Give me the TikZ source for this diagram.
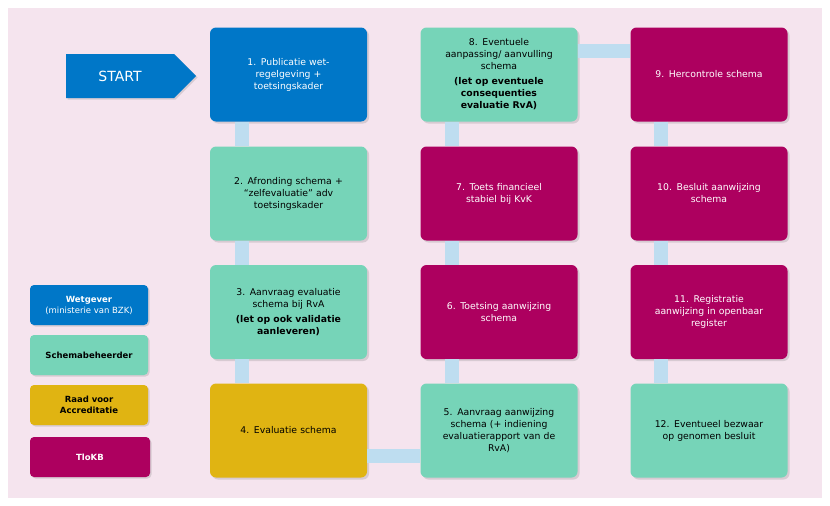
\documentclass[tikz,border=0pt]{standalone}
\usepackage{fontspec}
\setmainfont{DejaVu Sans}
\usetikzlibrary{shadows,shapes.arrows}
\definecolor{bgp}{HTML}{F5E4EE}
\definecolor{cblue}{HTML}{0077C8}
\definecolor{cgreen}{HTML}{76D4B8}
\definecolor{cmag}{HTML}{AD005F}
\definecolor{cgold}{HTML}{E0B412}
\definecolor{cbar}{HTML}{BEDDF0}
\tikzset{
 box/.style={rounded corners=6pt, minimum width=157pt, minimum height=94pt, align=center, text width=150pt, font=\fontsize{9.3}{12}\selectfont, drop shadow={opacity=0.25,shadow xshift=2pt,shadow yshift=-2pt}},
 gbox/.style={box, fill=cgreen, text=black},
 mbox/.style={box, fill=cmag, text=white},
 bbox/.style={box, fill=cblue, text=white},
 ybox/.style={box, fill=cgold, text=black},
 leg/.style={rounded corners=4pt, minimum width=118pt, minimum height=40pt, align=center, font=\fontsize{8.5}{11}\selectfont, drop shadow={opacity=0.25,shadow xshift=1.5pt,shadow yshift=-1.5pt}},
 bar/.style={line width=14pt, draw=cbar},
}
\begin{document}
\begin{tikzpicture}[x=1pt,y=-1pt]
\useasboundingbox (0,0) rectangle (830,506);
\fill[bgp] (8,8) rectangle (822,498);
% nodes
\node[bbox] (n1) at (288.5,74.5) {1. Publicatie wet-\\regelgeving +\\toetsingskader};
\node[gbox] (n2) at (288.5,193.5) {2. Afronding schema +\\“zelfevaluatie” adv\\toetsingskader};
\node[gbox] (n3) at (288.5,312) {3. Aanvraag evaluatie\\schema bij RvA\\[3pt]\textbf{(let op ook validatie}\\\textbf{aanleveren)}};
\node[ybox] (n4) at (288.5,430.5) {4. Evaluatie schema};
\node[gbox] (n5) at (499,430.5) {5. Aanvraag aanwijzing\\schema (+ indiening\\evaluatierapport van de\\RvA)};
\node[mbox] (n6) at (499,312) {6. Toetsing aanwijzing\\schema};
\node[mbox] (n7) at (499,193.5) {7. Toets financieel\\stabiel bij KvK};
\node[gbox] (n8) at (499,74.5) {8. Eventuele\\aanpassing/ aanvulling\\schema\\[3pt]\textbf{(let op eventuele}\\\textbf{consequenties}\\\textbf{evaluatie RvA)}};
\node[mbox] (n9) at (709,74.5) {9. Hercontrole schema};
\node[mbox] (n10) at (709,193.5) {10. Besluit aanwijzing\\schema};
\node[mbox] (n11) at (709,312) {11. Registratie\\aanwijzing in openbaar\\register};
\node[gbox] (n12) at (709,430.5) {12. Eventueel bezwaar\\op genomen besluit};
% bars
\begin{scope}[on background layer/.try]
\end{scope}
\foreach \a/\b in {n1/n2,n2/n3,n3/n4}
 \draw[bar] ([xshift=-46.5pt]\a.south) -- ([xshift=-46.5pt]\b.north);
\foreach \a/\b in {n5/n6,n6/n7,n7/n8}
 \draw[bar] ([xshift=-47.5pt]\a.north) -- ([xshift=-47.5pt]\b.south);
\foreach \a/\b in {n9/n10,n10/n11,n11/n12}
 \draw[bar] ([xshift=-48pt]\a.south) -- ([xshift=-48pt]\b.north);
\draw[bar] ([yshift=-25pt]n4.east) -- ([yshift=-25pt]n5.west);
\draw[bar] ([yshift=24pt]n8.east) -- ([yshift=24pt]n9.west);
% start arrow
\node[single arrow, fill=cblue, minimum height=130pt, minimum width=44pt, single arrow head extend=0pt, single arrow tip angle=90, inner sep=2pt, text=white, font=\fontsize{14}{16}\selectfont, drop shadow={opacity=0.25,shadow xshift=1.5pt,shadow yshift=-1.5pt}] (start) at (120,76) {START\hspace{20pt}};
% legend
\node[leg, fill=cblue, text=white] (l1) at (89,305) {\textbf{Wetgever}\\(ministerie van BZK)};
\node[leg, fill=cgreen] (l2) at (89,355) {\textbf{Schemabeheerder}};
\node[leg, fill=cgold] (l3) at (89,405) {\textbf{Raad voor}\\\textbf{Accreditatie}};
\node[leg, fill=cmag, text=white, minimum width=120pt] (l4) at (90,457) {\textbf{TloKB}};
\end{tikzpicture}
\end{document}
